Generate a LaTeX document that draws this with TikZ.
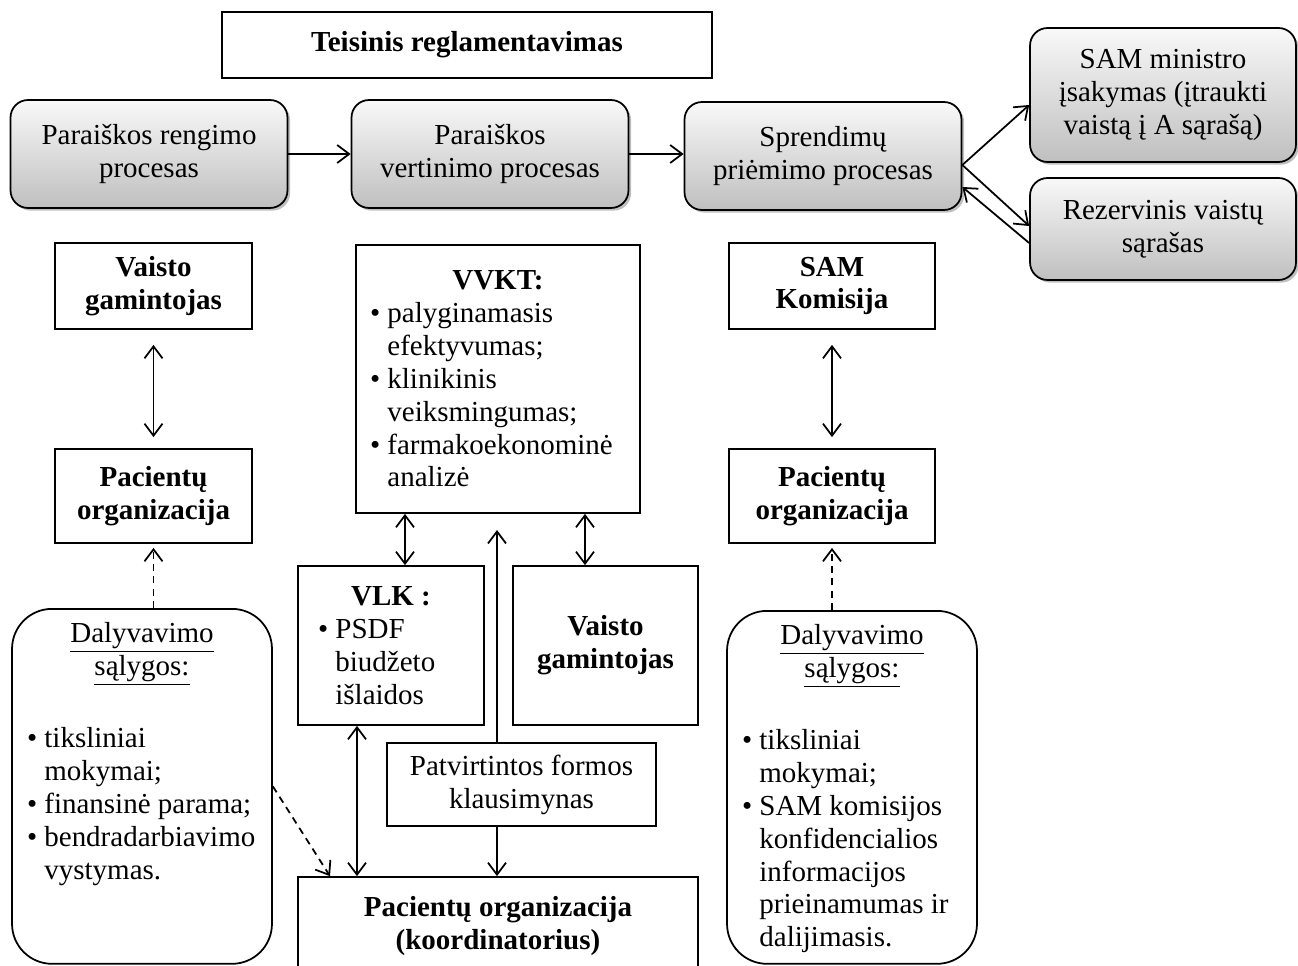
\documentclass[tikz,border=0pt]{standalone}
\usepackage{fontspec}
\setmainfont{Liberation Serif}
\usetikzlibrary{arrows.meta}
\usetikzlibrary{shadows}

\newcommand{\bitem}[1]{\par\noindent\hangindent=0.6em\hangafter=1\makebox[0.6em][l]{\textbullet}#1}

\begin{document}
\begin{tikzpicture}[x=0.02cm, y=-0.02cm, line width=1pt,
        every node/.style={font=\fontsize{16.5}{18.7}\selectfont},
        procbox/.style={draw, rounded corners=0.35cm, top color=gray!5, bottom color=gray!50, drop shadow={shadow xshift=1.5pt, shadow yshift=-1.5pt, opacity=0.5}, align=center, inner sep=2pt},
        infobox/.style={draw, align=center, inner sep=2pt},
        condbox/.style={draw, rounded corners=0.8cm, inner xsep=0.3cm, inner ysep=0.28cm, anchor=north},
        arr/.style={-{Straight Barb[length=2.4mm,width=3.6mm]}},
        dblarr/.style={{Straight Barb[length=2.4mm,width=3.6mm]}-{Straight Barb[length=2.4mm,width=3.6mm]}},
        dasharr/.style={arr, dash pattern=on 4pt off 3pt}]
            \clip (0,0) rectangle (1298,966);
            \useasboundingbox (0,0) rectangle (1298,966);
            \node[infobox, minimum width=9.8cm, minimum height=1.32cm] (teisinis) at (467,45) {\textbf{Teisinis reglamentavimas}};
            \node[procbox, minimum width=5.54cm, minimum height=2.16cm] (rengimas) at (149,154) {Paraiškos rengimo\\procesas};
            \node[procbox, minimum width=5.54cm, minimum height=2.16cm] (vertinimas) at (490,154) {Paraiškos\\vertinimo procesas};
            \node[procbox, minimum width=5.54cm, minimum height=2.16cm] (priemimas) at (823,156) {Sprendimų\\priėmimo procesas};
            \node[procbox, minimum width=5.32cm, minimum height=2.68cm] (isakymas) at (1163,95) {SAM ministro\\įsakymas (įtraukti\\vaistą į A sąrašą)};
            \node[procbox, minimum width=5.32cm, minimum height=2.04cm] (rezervas) at (1163,229) {Rezervinis vaistų\\sąrašas};
            \node[infobox, minimum width=3.94cm, minimum height=1.72cm] (gamintojasL) at (153.5,286) {\textbf{Vaisto}\\\textbf{gamintojas}};
            \node[infobox, minimum width=3.94cm, minimum height=1.88cm] (pacientaiL) at (153.5,496) {\textbf{Pacientų}\\\textbf{organizacija}};
            \node[infobox, minimum width=4.12cm, minimum height=1.72cm] (komisija) at (832,286) {\textbf{SAM}\\\textbf{Komisija}};
            \node[infobox, minimum width=4.12cm, minimum height=1.88cm] (pacientaiR) at (832,496) {\textbf{Pacientų}\\\textbf{organizacija}};
            \node[infobox, minimum width=5.68cm, minimum height=5.36cm] (vvkt) at (498,379) {\parbox{5.12cm}{\centerline{\textbf{VVKT:}}\bitem{palyginamasis\\efektyvumas;}\bitem{klinikinis\\veiksmingumas;}\bitem{farmakoekonominė\\analizė}}};
            \node[infobox, minimum width=3.72cm, minimum height=3.18cm] (vlk) at (391,645.5) {\parbox{2.92cm}{\centerline{\textbf{VLK :}}\bitem{PSDF\\biudžeto\\išlaidos}}};
            \node[infobox, minimum width=3.7cm, minimum height=3.18cm] (gamintojasM) at (605.5,645.5) {\textbf{Vaisto}\\\textbf{gamintojas}};
            \node[infobox, minimum width=5.38cm, minimum height=1.66cm] (klausimynas) at (521.5,784.5) {Patvirtintos formos\\klausimynas};
            \node[infobox, minimum width=8cm, minimum height=1.96cm] (koordinatorius) at (498,926) {\textbf{Pacientų organizacija}\\\textbf{(koordinatorius)}};
            \node[condbox] (salygosL) at (142,608) {\parbox[t][6.54cm][t]{4.6cm}{\centerline{\underline{Dalyvavimo}}\centerline{\underline{sąlygos:}}\vspace{0.78cm}\bitem{tiksliniai\\mokymai;}\bitem{finansinė parama;}\bitem{bendradarbiavimo\\vystymas.}}};
            \node[condbox] (salygosR) at (852,610) {\parbox[t][6.5cm][t]{4.4cm}{\centerline{\underline{Dalyvavimo}}\centerline{\underline{sąlygos:}}\vspace{0.78cm}\bitem{tiksliniai\\mokymai;}\bitem{SAM komisijos\\konfidencialios\\informacijos\\prieinamumas ir\\dalijimasis.}}};
            \coordinate (colA) at (405,0);
            \coordinate (colB) at (585,0);
            \coordinate (colD) at (357,0);
            \coordinate (colE) at (330,0);
            \coordinate (tip) at (497,530);
            \draw[arr] (rengimas) -- (vertinimas);
            \draw[arr] (vertinimas.east) -- (vertinimas.east -| priemimas.west);
            \draw[arr] ([yshift=-0.18cm]priemimas.east) -- ([yshift=-0.2cm]isakymas.west);
            \draw[arr] ([yshift=-0.18cm]priemimas.east) -- ([yshift=0.06cm]rezervas.west);
            \draw[arr] ([yshift=-0.28cm]rezervas.west) -- ([yshift=-0.62cm]priemimas.east);
            \draw[dblarr, shorten <=0.3cm, shorten >=0.22cm] (gamintojasL) -- (pacientaiL);
            \draw[dblarr, shorten <=0.3cm, shorten >=0.22cm] (komisija) -- (pacientaiR);
            \draw[dasharr, shorten >=0.08cm] (pacientaiL.south |- salygosL.north) -- (pacientaiL.south);
            \draw[dasharr, shorten >=0.08cm] (pacientaiR.south |- salygosR.north) -- (pacientaiR.south);
            \draw[dblarr] (vvkt.south -| colA) -- (vlk.north -| colA);
            \draw[dblarr] (vvkt.south -| colB) -- (gamintojasM.north -| colB);
            \draw[arr] (klausimynas.north -| tip) -- (tip);
            \draw[arr] (klausimynas.south -| tip) -- (koordinatorius.north -| tip);
            \draw[dblarr] (vlk.south -| colD) -- (koordinatorius.north -| colD);
            \draw[dasharr] (salygosL.east) -- (koordinatorius.north -| colE);
        \end{tikzpicture}
\end{document}
